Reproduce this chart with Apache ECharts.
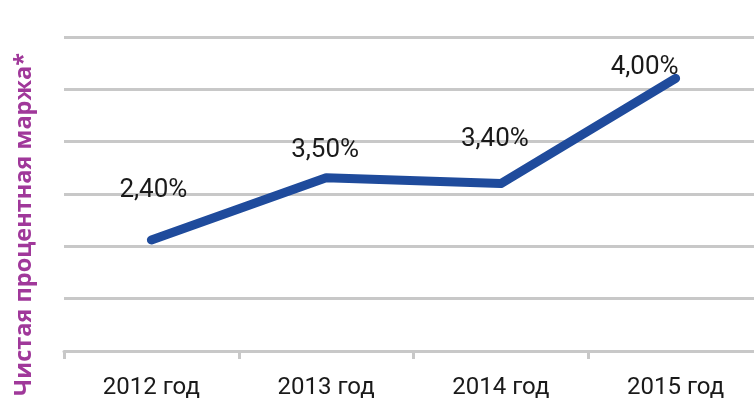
<!DOCTYPE html>
<html>
<head>
<meta charset="utf-8">
<script src="https://cdn.jsdelivr.net/npm/echarts@6/dist/echarts.min.js"></script>
<style>
html,body{margin:0;padding:0;background:#fff;overflow:hidden;width:754px;height:400px;}
#chart{width:770px;height:400px;}
</style>
</head>
<body>
<div id="chart"></div>
<script>
// Categories
var categories = ['2012 год', '2013 год', '2014 год', '2015 год'];
// Plotted positions as drawn in the reference (in gridline units)
var values = [2.12, 3.31, 3.20, 5.21];
// Printed value labels
var valueLabels = ['2,40%', '3,50%', '3,40%', '4,00%'];
var axisTitle = 'Чистая процентная маржа*';

var labelShift = [[2, -31], [-1, -8], [-6, -25], [-31, 8]];

var chart = echarts.init(document.getElementById('chart'), null, {renderer: 'canvas'});
chart.setOption({
  animation: false,
  backgroundColor: '#ffffff',
  grid: {left: 64, width: 699, top: 37, bottom: 48, containLabel: false},
  xAxis: {
    type: 'category',
    data: categories,
    boundaryGap: true,
    axisLine: {show: true, lineStyle: {color: '#c8c8c8', width: 3}},
    axisTick: {show: true, length: 8, lineStyle: {color: '#c8c8c8', width: 3}},
    axisLabel: {color: '#1a1a1a', fontFamily: 'Roboto', fontSize: 24, margin: 25}
  },
  yAxis: {
    type: 'value',
    min: 0, max: 6, interval: 1,
    axisLine: {show: false},
    axisTick: {show: false},
    axisLabel: {show: false},
    splitLine: {show: true, lineStyle: {color: '#c8c8c8', width: 3}}
  },
  graphic: [{
    type: 'text',
    x: 24, y: 53,
    rotation: Math.PI / 2,
    style: {
      text: axisTitle,
      fill: '#a0389a',
      font: 'bold 23.5px "Open Sans"',
      align: 'right',
      verticalAlign: 'middle'
    }
  }],
  series: [{
    type: 'line',
    data: values,
    symbol: 'circle',
    symbolSize: 2,
    showSymbol: true,
    itemStyle: {color: '#1f4b9c'},
    lineStyle: {color: '#1f4b9c', width: 9, cap: 'round', join: 'round'},
    label: {
      show: true,
      position: 'top',
      formatter: function (p) { return valueLabels[p.dataIndex]; },
      color: '#1a1a1a',
      fontFamily: 'Roboto',
      fontSize: 26
    },
    labelLayout: function (params) {
      var s = labelShift[params.dataIndex] || [0, 0];
      return {dx: s[0], dy: s[1], hideOverlap: false};
    }
  }]
});
</script>
</body>
</html>
